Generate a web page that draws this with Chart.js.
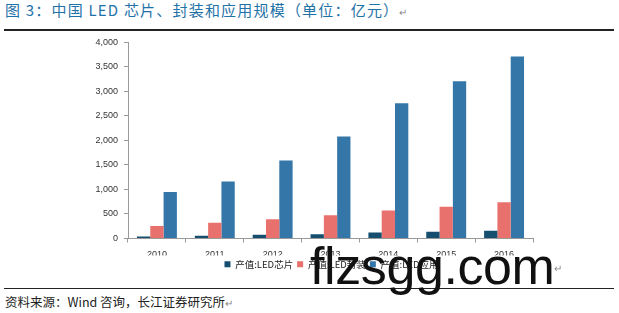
<!DOCTYPE html>
<html>
<head>
<meta charset="utf-8">
<script src="https://cdn.jsdelivr.net/npm/chart.js@4"></script>
<style>
  html, body { margin: 0; padding: 0; background: #fff; }
  body { width: 619px; height: 313px; position: relative; overflow: hidden;
         font-family: "Noto Sans CJK SC", "Liberation Sans", sans-serif; }
  .title { position: absolute; left: 5px; top: -1px; font-size: 15px; letter-spacing: 1.2px; color: #1f72a8; white-space: nowrap; }
  .rule { position: absolute; left: 4px; width: 610px; height: 2px; background: #222; }
  .src { position: absolute; left: 5px; top: 292px; font-size: 12.5px; color: #222; white-space: nowrap; }
  .ret { color: #888; font-size: 10px; letter-spacing: 0; }
  .box { position: absolute; left: 0; top: 31px; width: 565px; height: 252px; }
  .mark { position: absolute; left: 310px; top: 236px; font-family: "Liberation Sans", sans-serif;
          font-size: 52px; color: #111; letter-spacing: -0.4px; white-space: nowrap; }
  .ret2 { position: absolute; left: 554px; top: 260px; color: #888; font-size: 10px; }
</style>
</head>
<body>
<div class="title">图 3：中国 LED 芯片、封装和应用规模（单位：亿元）<span class="ret">↵</span></div>
<div class="rule" style="top:29px"></div>
<div class="box"><canvas id="c"></canvas></div>
<div class="ret2">↵</div>
<div class="rule" style="top:288px;height:1px"></div>
<div class="mark">flzsgg.com</div>
<div class="src">资料来源：Wind 咨询，长江证券研究所<span class="ret">↵</span></div>
<script>
  // 中国 LED 规模（亿元）
  const years = ['2010', '2011', '2012', '2013', '2014', '2015', '2016'];
  const chipVals = [40, 55, 75, 85, 120, 140, 160];
  const packVals = [255, 320, 395, 475, 570, 650, 740];
  const appVals = [950, 1165, 1590, 2080, 2760, 3210, 3710];
  const yTicks = [0, 500, 1000, 1500, 2000, 2500, 3000, 3500, 4000];

  const numFont = { family: '"Liberation Sans", Arial, sans-serif', size: 9 };

  // 图例整体右移，和原图对齐
  const legendShift = {
    id: 'legendShift',
    afterLayout(chart) {
      chart.legend.left += 65;
      chart.legend.right += 65;
    }
  };

  new Chart(document.getElementById('c'), {
    type: 'bar',
    data: {
      labels: years,
      datasets: [
        { label: '产值:LED芯片', data: chipVals, backgroundColor: '#154e6f' },
        { label: '产值:LED封装', data: packVals, backgroundColor: '#e8716d' },
        { label: '产值:LED应用', data: appVals, backgroundColor: '#3576a8' }
      ]
    },
    options: {
      responsive: true,
      maintainAspectRatio: false,
      animation: false,
      datasets: { bar: { categoryPercentage: 0.69, barPercentage: 1.0 } },
      layout: { padding: { left: 0, right: 32, top: 2, bottom: 4 } },
      plugins: {
        tooltip: { enabled: false },
        legend: {
          position: 'bottom',
          labels: {
            boxWidth: 6, boxHeight: 6, padding: 4, color: '#222',
            font: { family: '"Noto Sans CJK SC", sans-serif', size: 9.5 }
          }
        }
      },
      scales: {
        y: {
          min: 0, max: 4000,
          afterFit: s => { s.width = 128; },
          afterBuildTicks: s => { s.ticks = yTicks.map(v => ({ value: v })); },
          ticks: {
            color: '#333', font: numFont, padding: 6,
            callback: v => v.toLocaleString('en-US')
          },
          grid: { drawOnChartArea: false, drawTicks: true, tickLength: 4, color: '#999' },
          border: { color: '#999' }
        },
        x: {
          afterFit: s => { s.height = 17; },
          ticks: { color: '#333', font: numFont, padding: 7 },
          grid: { drawOnChartArea: false, drawTicks: true, tickLength: 4, color: '#999', offset: true },
          border: { color: '#999' }
        }
      }
    },
    plugins: [legendShift]
  });
</script>
</body>
</html>
